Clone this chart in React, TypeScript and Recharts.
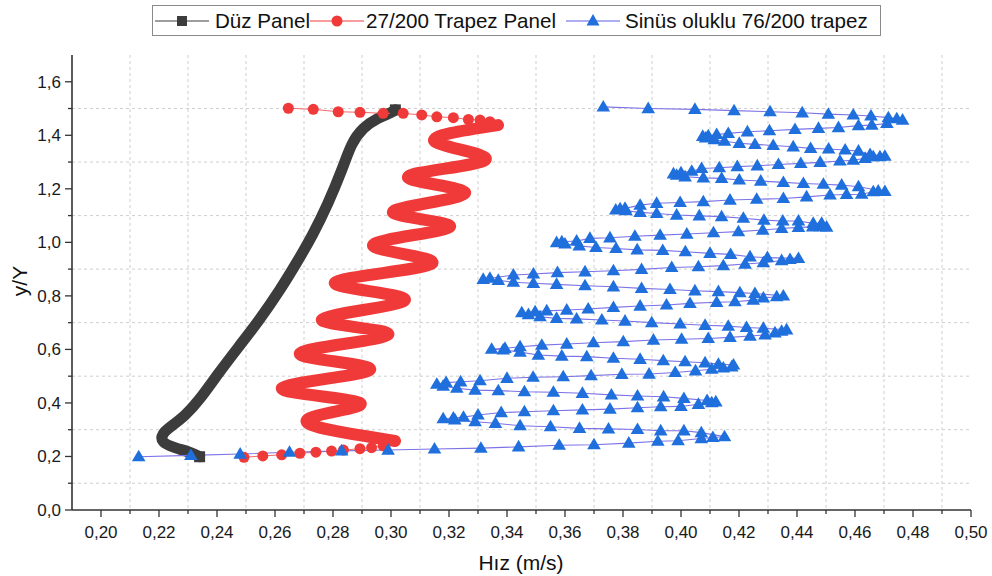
import React from "react";
import { ComposedChart, Line, XAxis, YAxis, CartesianGrid } from "recharts";

const FONT = '"Liberation Sans", Arial, Helvetica, sans-serif';
const AXIS = "#333333";
const DUZ_COLOR = "#3c3c3c";
const RED = "#f03a3a";
const RED_LINE = "#f26a6a";
const BLUE = "#1f6fdc";
const BLUE_LINE = "#7d72e6";

// axis ticks
const xMajorTicks = [0.2, 0.22, 0.24, 0.26, 0.28, 0.3, 0.32, 0.34, 0.36, 0.38, 0.4, 0.42, 0.44, 0.46, 0.48, 0.5];
const xMinorTicks = [0.21, 0.23, 0.25, 0.27, 0.29, 0.31, 0.33, 0.35, 0.37, 0.39, 0.41, 0.43, 0.45, 0.47, 0.49];
const yMajorTicks = [0, 0.2, 0.4, 0.6, 0.8, 1.0, 1.2, 1.4, 1.6];
const yMinorTicks = [0.1, 0.3, 0.5, 0.7, 0.9, 1.1, 1.3, 1.5];

// Düz Panel
const duzX = [0.234, 0.2307, 0.2255, 0.2215, 0.2215, 0.2245, 0.229, 0.234, 0.2405, 0.2475, 0.2545, 0.2615, 0.2675, 0.273, 0.2782, 0.283, 0.2865, 0.2905, 0.2955, 0.3, 0.3015];
const duzY = [0.199, 0.215, 0.233, 0.255, 0.285, 0.315, 0.355, 0.415, 0.51, 0.61, 0.71, 0.82, 0.925, 1.03, 1.145, 1.27, 1.365, 1.425, 1.463, 1.485, 1.495];

// 27/200 Trapez Panel: sparse start, dense wave (turning points), sparse end
const trapezBottomX = [0.2493, 0.2558, 0.2623, 0.2686, 0.2741, 0.2795, 0.2836, 0.2893, 0.2933, 0.2973];
const trapezBottomY = [0.197, 0.202, 0.206, 0.212, 0.216, 0.22, 0.224, 0.229, 0.233, 0.24];
const trapezWaveX = [0.3014, 0.271, 0.2893, 0.2624, 0.2928, 0.2686, 0.299, 0.2762, 0.3048, 0.2807, 0.3141, 0.2938, 0.3203, 0.3007, 0.3255, 0.3059, 0.3324, 0.3152, 0.3369];
const trapezWaveY = [0.258, 0.336, 0.4, 0.456, 0.525, 0.585, 0.655, 0.712, 0.785, 0.85, 0.921, 0.99, 1.058, 1.114, 1.183, 1.245, 1.307, 1.376, 1.438];
const trapezTopX = [0.3341, 0.3307, 0.3267, 0.3215, 0.3158, 0.3106, 0.3042, 0.2973, 0.2893, 0.2818, 0.2732, 0.2646];
const trapezTopY = [1.451, 1.457, 1.459, 1.466, 1.469, 1.476, 1.482, 1.482, 1.486, 1.488, 1.497, 1.501];

// Sinüs oluklu 76/200 trapez
const sinusX = [
  0.213, 0.231, 0.248, 0.265, 0.283, 0.299, 0.315, 0.331, 0.344, 0.358, 0.37, 0.382, 0.392, 0.399, 0.407, 0.411, 0.415,
  0.407, 0.401, 0.393, 0.385, 0.375, 0.365, 0.355, 0.3445, 0.336, 0.329, 0.322, 0.318, 0.3215, 0.325,
  0.33, 0.338, 0.346, 0.356, 0.366, 0.3755, 0.385, 0.393, 0.4, 0.406, 0.4106, 0.412, 0.409,
  0.401, 0.394, 0.385, 0.376, 0.366, 0.356, 0.346, 0.337, 0.329, 0.3227, 0.318, 0.3158, 0.319,
  0.324, 0.3307, 0.34, 0.349, 0.3594, 0.369, 0.3796, 0.389, 0.398, 0.405, 0.4106, 0.4146, 0.4175,
  0.4181, 0.4129, 0.4083, 0.4014, 0.3939, 0.3859, 0.3767, 0.3675, 0.3589, 0.3508, 0.3445, 0.3387, 0.3347,
  0.3393, 0.3445, 0.352, 0.3606, 0.3698, 0.3801, 0.3905, 0.4002, 0.4094, 0.4169, 0.4238, 0.429, 0.4324, 0.4347, 0.4364,
  0.4284, 0.4226, 0.4163, 0.4083, 0.3997, 0.3899, 0.3807, 0.3727, 0.364, 0.3571, 0.3514, 0.3474, 0.3451,
  0.3497, 0.3537, 0.3606, 0.368, 0.3767, 0.3859, 0.395, 0.4031, 0.4123, 0.4186, 0.4249, 0.4284, 0.433, 0.4353,
  0.4255, 0.4203, 0.4129, 0.4048, 0.3962, 0.3864, 0.3767, 0.3669, 0.3571, 0.3491, 0.3422, 0.337, 0.3318, 0.3341,
  0.3422, 0.3491, 0.3574, 0.3669, 0.3767, 0.3864, 0.3968, 0.406, 0.4146, 0.4221, 0.4284, 0.4347, 0.4376, 0.4405,
  0.4298, 0.4238, 0.4171, 0.41, 0.4015, 0.3937, 0.3849, 0.3776, 0.3707, 0.3649, 0.36, 0.3571, 0.3589,
  0.364, 0.3686, 0.3755, 0.3841, 0.3928, 0.402, 0.4112, 0.4198, 0.4282, 0.4347, 0.4405, 0.4454, 0.4479, 0.4502,
  0.4485, 0.4456, 0.4405, 0.4351, 0.4286, 0.4215, 0.414, 0.4063, 0.3985, 0.3916, 0.3859, 0.381, 0.3775,
  0.379, 0.3807, 0.3859, 0.3916, 0.3997, 0.4077, 0.4169, 0.4261, 0.4353, 0.4433, 0.4514, 0.4571, 0.4623, 0.4663, 0.468, 0.4703,
  0.4612, 0.4554, 0.4491, 0.4422, 0.4353, 0.4275, 0.4201, 0.414, 0.4077, 0.4014, 0.3985, 0.3974, 0.4,
  0.4037, 0.4071, 0.4132, 0.4194, 0.4263, 0.4336, 0.4413, 0.448, 0.4548, 0.4594, 0.4635, 0.4663, 0.4686, 0.4703,
  0.4652, 0.4612, 0.4566, 0.4509, 0.4447, 0.4387, 0.4318, 0.4255, 0.4201, 0.415, 0.4115, 0.4085, 0.4075,
  0.4094, 0.4123, 0.4163, 0.4229, 0.4305, 0.4393, 0.4474, 0.4543, 0.4612, 0.4658, 0.471,
  0.4764, 0.4744, 0.4715, 0.4655, 0.4594, 0.4508, 0.4418, 0.4307, 0.4183, 0.4048, 0.3887, 0.3732,
];
const sinusY = [
  0.199, 0.204, 0.209, 0.216, 0.221, 0.224, 0.228, 0.231, 0.236, 0.242, 0.244, 0.25, 0.257, 0.259, 0.267, 0.271, 0.274,
  0.289, 0.296, 0.296, 0.301, 0.303, 0.305, 0.311, 0.315, 0.324, 0.33, 0.337, 0.341, 0.344, 0.347,
  0.355, 0.364, 0.367, 0.371, 0.374, 0.377, 0.382, 0.386, 0.387, 0.395, 0.401, 0.404, 0.409,
  0.417, 0.423, 0.426, 0.43, 0.436, 0.44, 0.442, 0.446, 0.448, 0.455, 0.463, 0.47, 0.476,
  0.479, 0.483, 0.492, 0.496, 0.498, 0.502, 0.507, 0.508, 0.514, 0.52, 0.526, 0.531, 0.535,
  0.542, 0.545, 0.55, 0.554, 0.558, 0.563, 0.567, 0.573, 0.575, 0.579, 0.59, 0.598, 0.601,
  0.604, 0.61, 0.616, 0.62, 0.625, 0.629, 0.635, 0.638, 0.641, 0.645, 0.65, 0.654, 0.662, 0.668, 0.673,
  0.679, 0.682, 0.687, 0.69, 0.695, 0.7, 0.706, 0.71, 0.714, 0.716, 0.722, 0.73, 0.737,
  0.741, 0.744, 0.747, 0.751, 0.757, 0.762, 0.766, 0.772, 0.776, 0.778, 0.784, 0.792, 0.797, 0.8,
  0.809, 0.812, 0.816, 0.819, 0.824, 0.828, 0.834, 0.838, 0.843, 0.847, 0.851, 0.858, 0.862, 0.866,
  0.878, 0.882, 0.887, 0.89, 0.894, 0.899, 0.906, 0.909, 0.913, 0.919, 0.924, 0.932, 0.936, 0.94,
  0.943, 0.946, 0.955, 0.959, 0.965, 0.97, 0.972, 0.977, 0.981, 0.987, 0.994, 0.999, 1.002,
  1.005, 1.015, 1.017, 1.023, 1.027, 1.031, 1.036, 1.04, 1.046, 1.052, 1.056, 1.058, 1.059, 1.057,
  1.071, 1.071, 1.08, 1.08, 1.083, 1.09, 1.096, 1.099, 1.102, 1.108, 1.112, 1.118, 1.121,
  1.126, 1.127, 1.139, 1.146, 1.149, 1.152, 1.158, 1.161, 1.164, 1.17, 1.177, 1.179, 1.18, 1.189, 1.192, 1.19,
  1.208, 1.214, 1.217, 1.22, 1.224, 1.229, 1.233, 1.239, 1.241, 1.245, 1.251, 1.256, 1.26,
  1.266, 1.276, 1.279, 1.283, 1.286, 1.291, 1.295, 1.299, 1.304, 1.307, 1.314, 1.32, 1.32, 1.322,
  1.328, 1.341, 1.345, 1.349, 1.351, 1.357, 1.362, 1.366, 1.37, 1.378, 1.384, 1.39, 1.396,
  1.398, 1.403, 1.407, 1.413, 1.417, 1.422, 1.426, 1.429, 1.436, 1.438, 1.444,
  1.457, 1.462, 1.466, 1.472, 1.476, 1.479, 1.484, 1.488, 1.492, 1.497, 1.5, 1.506,
];

const toPoints = (xs: number[], ys: number[]) => xs.map((x, i) => ({ x, y: ys[i] }));

const duzData = toPoints(duzX, duzY);
const trapezBottom = toPoints(trapezBottomX, trapezBottomY);
const trapezWave = toPoints(trapezWaveX, trapezWaveY);
const trapezTop = toPoints(trapezTopX, trapezTopY);
const sinusData = toPoints(sinusX, sinusY);

const xTicks = [...xMajorTicks, ...xMinorTicks].sort((a, b) => a - b);
const yTicks = [...yMajorTicks, ...yMinorTicks].sort((a, b) => a - b);

const isMajorX = (v: number) => Math.round(v * 100) % 2 === 0;
const isMajorY = (v: number) => Math.round(v * 10) % 2 === 0;

function BottomTick(props: any) {
  const { x, y, payload } = props;
  const v = payload.value as number;
  const major = isMajorX(v);
  return (
    <g>
      <line x1={x} x2={x} y1={y} y2={y + (major ? 7 : 4)} stroke={AXIS} strokeWidth={1.3} />
      {major && (
        <text x={x} y={y + 28} textAnchor="middle" fontSize={17} fill="#1a1a1a" fontFamily={FONT}>
          {v.toFixed(2).replace(".", ",")}
        </text>
      )}
    </g>
  );
}

function TopTick(props: any) {
  const { x, y, payload } = props;
  const major = isMajorX(payload.value);
  return <line x1={x} x2={x} y1={y} y2={y + (major ? 6 : 4)} stroke={AXIS} strokeWidth={1.3} />;
}

function LeftTick(props: any) {
  const { x, y, payload } = props;
  const v = payload.value as number;
  const major = isMajorY(v);
  return (
    <g>
      <line x1={x - (major ? 7 : 4)} x2={x} y1={y} y2={y} stroke={AXIS} strokeWidth={1.3} />
      {major && (
        <text x={x - 11} y={y + 6} textAnchor="end" fontSize={17} fill="#1a1a1a" fontFamily={FONT}>
          {v.toFixed(1).replace(".", ",")}
        </text>
      )}
    </g>
  );
}

function RightTick(props: any) {
  const { x, y, payload } = props;
  const major = isMajorY(payload.value);
  return <line x1={x - (major ? 6 : 4)} x2={x} y1={y} y2={y} stroke={AXIS} strokeWidth={1.3} />;
}

// square marker only where the dense curve ends
const squareDot = (p: any) => {
  const { cx, cy, index } = p;
  if (cx == null || cy == null || (index !== 0 && index !== duzData.length - 1)) return <g key={`s${index}`} />;
  return <rect key={`s${index}`} x={cx - 5.5} y={cy - 5.5} width={11} height={11} fill={DUZ_COLOR} />;
};

const circleDot = (p: any) => {
  const { cx, cy, index } = p;
  if (cx == null || cy == null) return <g key={`c${index}`} />;
  return <circle key={`c${index}`} cx={cx} cy={cy} r={5.5} fill={RED} />;
};

const triangleDot = (p: any) => {
  const { cx, cy, index } = p;
  if (cx == null || cy == null) return <g key={`t${index}`} />;
  return (
    <path
      key={`t${index}`}
      d={`M${cx},${cy - 7} L${cx + 6.8},${cy + 4.6} L${cx - 6.8},${cy + 4.6} Z`}
      fill={BLUE}
    />
  );
};

function LegendSymbol({ color, kind }: { color: string; kind: "square" | "circle" | "triangle" }) {
  return (
    <svg width={54} height={20} style={{ display: "block" }}>
      <line x1={0} x2={54} y1={10} y2={10} stroke={color} strokeWidth={1} />
      {kind === "square" && <rect x={22} y={5} width={10} height={10} fill={DUZ_COLOR} />}
      {kind === "circle" && <circle cx={27} cy={10} r={5.5} fill={RED} />}
      {kind === "triangle" && <path d="M27,3 L33.5,14.5 L20.5,14.5 Z" fill={BLUE} />}
    </svg>
  );
}

function ChartLegend() {
  const item = (left: number, node: React.ReactNode) => (
    <div style={{ position: "absolute", left, top: 0, height: 29, display: "flex", alignItems: "center" }}>{node}</div>
  );
  const label = (text: string) => (
    <span style={{ fontSize: 20.6, fontFamily: FONT, color: "#111", whiteSpace: "nowrap" }}>{text}</span>
  );
  return (
    <div
      style={{
        position: "absolute",
        left: 152,
        top: 5,
        width: 729,
        height: 31,
        border: "1px solid #8a8a8a",
        background: "#fff",
        boxSizing: "border-box",
      }}
    >
      {item(2, <LegendSymbol color={DUZ_COLOR} kind="square" />)}
      {item(62, label("Düz Panel"))}
      {item(157, <LegendSymbol color={RED} kind="circle" />)}
      {item(213, label("27/200 Trapez Panel"))}
      {item(413, <LegendSymbol color="#5a5ae6" kind="triangle" />)}
      {item(472, label("Sinüs oluklu 76/200 trapez"))}
    </div>
  );
}

export default function App() {
  return (
    <div style={{ position: "absolute", left: 0, top: 0, width: 992, height: 576, background: "#fff", fontFamily: FONT }}>
      <ComposedChart width={992} height={576} margin={{ top: 55, right: 21, bottom: 0, left: 0 }}>
        <CartesianGrid
          stroke="#cfcfcf"
          strokeDasharray="3 3"
          verticalValues={xMinorTicks}
          horizontalValues={yMinorTicks}
        />
        <XAxis
          type="number"
          dataKey="x"
          domain={[0.19, 0.5]}
          allowDataOverflow
          ticks={xTicks}
          interval={0}
          tick={<BottomTick />}
          tickLine={false}
          tickSize={0}
          tickMargin={0}
          height={66}
          axisLine={{ stroke: AXIS, strokeWidth: 1.6 }}
        />
        <XAxis
          xAxisId="top"
          orientation="top"
          type="number"
          dataKey="x"
          domain={[0.19, 0.5]}
          allowDataOverflow
          ticks={xTicks.filter((v) => v < 0.5)}
          interval={0}
          tick={<TopTick />}
          tickLine={false}
          tickSize={0}
          tickMargin={0}
          height={0}
          axisLine={{ stroke: AXIS, strokeWidth: 1.6 }}
        />
        <YAxis
          type="number"
          dataKey="y"
          domain={[0, 1.7]}
          allowDataOverflow
          ticks={yTicks}
          interval={0}
          tick={<LeftTick />}
          tickLine={false}
          tickSize={0}
          tickMargin={0}
          width={72}
          axisLine={{ stroke: AXIS, strokeWidth: 1.6 }}
        />
        <YAxis
          yAxisId="right"
          orientation="right"
          type="number"
          dataKey="y"
          domain={[0, 1.7]}
          allowDataOverflow
          ticks={yTicks.filter((v) => v > 0)}
          interval={0}
          tick={<RightTick />}
          tickLine={false}
          tickSize={0}
          tickMargin={0}
          width={0}
          axisLine={{ stroke: AXIS, strokeWidth: 1.6 }}
        />
        <Line
          data={duzData}
          dataKey="y"
          type="natural"
          stroke={DUZ_COLOR}
          strokeWidth={11}
          strokeLinecap="round"
          dot={squareDot}
          activeDot={false}
          isAnimationActive={false}
        />
        <Line
          data={trapezWave}
          dataKey="y"
          type="natural"
          stroke={RED}
          strokeWidth={12}
          strokeLinecap="round"
          dot={false}
          activeDot={false}
          isAnimationActive={false}
        />
        <Line
          data={trapezBottom}
          dataKey="y"
          type="linear"
          stroke={RED_LINE}
          strokeWidth={1}
          dot={circleDot}
          activeDot={false}
          isAnimationActive={false}
        />
        <Line
          data={trapezTop}
          dataKey="y"
          type="linear"
          stroke={RED_LINE}
          strokeWidth={1}
          dot={circleDot}
          activeDot={false}
          isAnimationActive={false}
        />
        <Line
          data={sinusData}
          dataKey="y"
          type="linear"
          stroke={BLUE_LINE}
          strokeWidth={1.1}
          dot={triangleDot}
          activeDot={false}
          isAnimationActive={false}
        />
      </ComposedChart>
      <ChartLegend />
      <div
        style={{
          position: "absolute",
          left: 421,
          top: 550,
          width: 200,
          height: 26,
          lineHeight: "26px",
          textAlign: "center",
          fontSize: 21,
          color: "#111",
        }}
      >
        Hız (m/s)
      </div>
      <div
        style={{
          position: "absolute",
          left: -30,
          top: 268,
          width: 100,
          height: 26,
          lineHeight: "26px",
          textAlign: "center",
          fontSize: 21,
          color: "#111",
          transform: "rotate(-90deg)",
        }}
      >
        y/Y
      </div>
    </div>
  );
}
